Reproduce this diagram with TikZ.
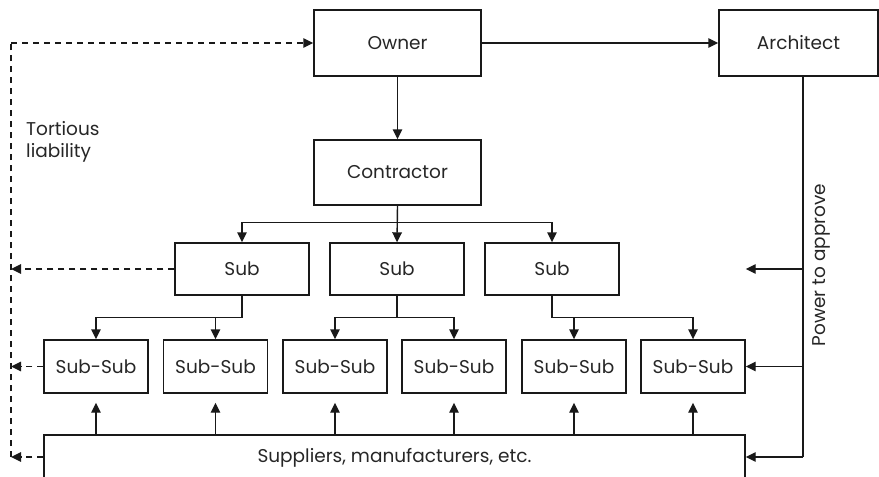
\documentclass[tikz,border=0pt]{standalone}
\usepackage{fontspec}
\setmainfont{Poppins}
\usetikzlibrary{arrows.meta}
\begin{document}
\begin{tikzpicture}[x=1pt,y=-1pt,
  every node/.style={font=\fontsize{18.5}{22}\selectfont, text=black!85},
  box/.style={draw=black!90, line width=1.4pt, inner sep=0pt, rectangle},
  link/.style={draw=black!90, line width=1.4pt, -{Triangle[length=10pt,width=9.5pt]}},
  plain/.style={draw=black!90, line width=1.4pt},
  tort/.style={draw=black!90, line width=1.4pt, dash pattern=on 6pt off 5pt},
  tortarrow/.style={tort, -{Triangle[length=10pt,width=9.5pt]}}]
\useasboundingbox (0,0) rectangle (879,477);

% top level
\node[box, minimum width=167pt, minimum height=66pt] (own) at (397.5,43) {Owner};
\node[box, minimum width=159pt, minimum height=66pt] (arch) at (798.5,43) {Architect};
\node[box, minimum width=167pt, minimum height=65pt] (con) at (397.5,172.5) {Contractor};

% subcontractors
\node[box, minimum width=134pt, minimum height=52pt] (s1) at (242,269) {Sub};
\node[box, minimum width=134pt, minimum height=52pt] (s2) at (397,269) {Sub};
\node[box, minimum width=134pt, minimum height=52pt] (s3) at (552,269) {Sub};

% sub-subcontractors
\foreach \n/\x in {1/96,2/215.5,3/335,4/454,5/574,6/693}
  \node[box, minimum width=104pt, minimum height=53pt] (ss\n) at (\x,366.5) {Sub-Sub};

% suppliers (box runs off the bottom edge)
\node[box, minimum width=701pt, minimum height=46pt] (sup) at (394.5,458) {Suppliers, manufacturers, etc.};

% labels
\node[anchor=west, align=left, inner sep=0pt] (tl) at (26,142) {Tortious\\liability};
\node[rotate=90, inner sep=0pt] (pw) at (821,265) {Power to approve};

% contract chain
\draw[link] (own) -- (arch);
\draw[link] (own) -- (con);
\draw[link] (con.south) |- ++(0,17) -| (s1.north);
\draw[link] (con.south) -- (s2.north);
\draw[link] (con.south) |- ++(0,17) -| (s3.north);

\draw[link] (s1.south) |- ++(0,22) -| (ss1.north);
\draw[link] (s1.south) |- ++(0,22) -| (ss2.north);
\draw[link] (s2.south) |- ++(0,22) -| (ss3.north);
\draw[link] (s2.south) |- ++(0,22) -| (ss4.north);
\draw[link] (s3.south) |- ++(0,22) -| (ss5.north);
\draw[link] (s3.south) |- ++(0,22) -| (ss6.north);

% supply
\foreach \n in {1,...,6}
  \draw[link] (ss\n.south |- sup.north) -- ([yshift=-9pt]ss\n.south);

% architect's power to approve
\coordinate (pbot) at (803,457);
\coordinate (ptop) at (803,76);
\draw[plain] (ptop) -- (pbot);
\draw[link] (pbot) -- (pbot -| sup.east);
\draw[link] (ptop |- ss6) -- (ss6.east);
\draw[link] (ptop |- s3) -- (ss6.east |- s3);

% tortious liability
\coordinate (dtop) at (11,43);
\coordinate (dbot) at (11,457);
\draw[tort] (dbot) -- (dtop);
\draw[tortarrow] (dtop) -- (own.west);
\draw[tortarrow] (s1.west) -- (s1.west -| dtop);
\draw[tortarrow] (ss1.west) -- (ss1.west -| dtop);
\draw[tortarrow] (dbot -| sup.west) -- (dbot);
\end{tikzpicture}
\end{document}
